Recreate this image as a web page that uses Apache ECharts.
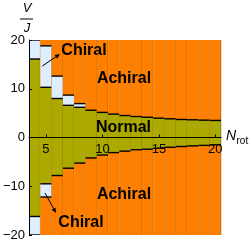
<!DOCTYPE html>
<html><head><meta charset="utf-8">
<script src="https://cdn.jsdelivr.net/npm/echarts@6/dist/echarts.min.js"></script>
<style>html,body{margin:0;padding:0;background:#fff}#c{width:249px;height:244px}</style>
</head><body><div id="c"></div>
<script>
// ---- data ----
const nRot        = [4, 5, 6, 7, 8, 9, 10, 11, 12, 13, 14, 15, 16, 17, 18, 19, 20];
const normalUpper = [16.1, 10.3, 8.0, 6.6, 6.2, 5.6, 5.15, 4.8, 4.5, 4.3, 4.15, 3.97, 3.83, 3.7, 3.63, 3.56, 3.5];
const chiralUpper = [20, 18.8, 12.6, 8.7, 6.95, null, null, null, null, null, null, null, null, null, null, null, null];
const normalLower = [-16.2, -9.5, -7.8, -6.3, -5.25, -4.2, -3.6, -3.1, -2.8, -2.5, -2.4, -2.2, -2.0, -1.85, -1.72, -1.62, -1.5];
const chiralLower = [-20, -12.2, null, null, null, null, null, null, null, null, null, null, null, null, null, null, null];
const xTicks = [5, 10, 15, 20];
const yMin = -20, yMax = 20, yStep = 10;

const ORANGE = '#FF8000', OLIVE = '#AAAA00', BLUE = '#DDEEFF';
const FONT = '"Liberation Sans", Arial, sans-serif';
const GRID_TOP = 40, GRID_H = 195;

const chart = echarts.init(document.getElementById('c'), null, {renderer: 'canvas'});

function renderItem(params, api) {
  const i = params.dataIndex;
  const n = api.value(0);
  const nu = normalUpper[i], nl = normalLower[i];
  const cu = chiralUpper[i], cl = chiralLower[i];
  const xl = api.coord([n - 0.5, 0])[0], xr = api.coord([n + 0.5, 0])[0];
  const w = xr - xl;
  const Y = v => api.coord([n, v])[1];
  const top = Y(yMax), bot = Y(yMin);
  const ch = [];
  ch.push({type: 'rect', shape: {x: xl, y: top, width: w, height: bot - top}, style: {fill: ORANGE}});
  ch.push({type: 'rect', shape: {x: xl, y: Y(nu), width: w, height: Y(nl) - Y(nu)}, style: {fill: OLIVE}});
  if (cu != null) ch.push({type: 'rect', shape: {x: xl, y: Y(cu), width: w, height: Y(nu) - Y(cu)}, style: {fill: BLUE}});
  if (cl != null) ch.push({type: 'rect', shape: {x: xl, y: Y(nl), width: w, height: Y(cl) - Y(nl)}, style: {fill: BLUE}});
  ch.push({type: 'line', shape: {x1: xr, y1: top, x2: xr, y2: bot}, style: {stroke: 'rgba(0,0,0,0.25)', lineWidth: 1}});
  const hl = v => ch.push({type: 'line', shape: {x1: xl, y1: Y(v), x2: xr, y2: Y(v)}, style: {stroke: '#000', lineWidth: 1.4}});
  hl(nu); hl(nl);
  if (cu != null) hl(cu);
  if (cl != null) hl(cl);
  return {type: 'group', children: ch};
}

function arrow(x1, y1, x2, y2) {
  const a = Math.atan2(y2 - y1, x2 - x1), L = 5, W = 2.2;
  const bx = x2 - L * Math.cos(a), by = y2 - L * Math.sin(a);
  const px = -Math.sin(a) * W, py = Math.cos(a) * W;
  return [
    {type: 'line', shape: {x1: x1, y1: y1, x2: bx, y2: by}, style: {stroke: '#000', lineWidth: 1}, z: 20},
    {type: 'polygon', shape: {points: [[x2, y2], [bx + px, by + py], [bx - px, by - py]]}, style: {fill: '#000'}, z: 20}
  ];
}

const lbl = (x, y, t) => ({type: 'text', x: x, y: y, z: 20,
  style: {text: t, fontFamily: FONT, fontSize: 16, fontWeight: 'bold', fill: '#000', align: 'center', verticalAlign: 'middle'}});

const graphics = [
  // y axis title V/J
  {type: 'text', x: 27, y: 8, style: {text: 'V', fontFamily: FONT, fontSize: 13, fontStyle: 'italic', fill: '#000', align: 'center', verticalAlign: 'middle'}},
  {type: 'line', shape: {x1: 20, y1: 19, x2: 33, y2: 19}, style: {stroke: '#000', lineWidth: 1}},
  {type: 'text', x: 27, y: 28, style: {text: 'J', fontFamily: FONT, fontSize: 13, fontStyle: 'italic', fill: '#000', align: 'center', verticalAlign: 'middle'}},
  // x axis name N_rot
  {type: 'text', x: 226, y: 136, style: {text: 'N', fontFamily: FONT, fontSize: 14, fontStyle: 'italic', fill: '#000', align: 'left', verticalAlign: 'middle'}},
  {type: 'text', x: 236.5, y: 141, style: {text: 'rot', fontFamily: FONT, fontSize: 10, fill: '#000', align: 'left', verticalAlign: 'middle'}},
  lbl(84, 51, 'Chiral'),
  lbl(124, 79, 'Achiral'),
  lbl(123.5, 127.5, 'Normal'),
  lbl(124, 195, 'Achiral'),
  lbl(81, 223, 'Chiral')
].concat(arrow(42.3, 66, 60, 54)).concat(arrow(45, 193, 56, 213));

chart.setOption({
  animation: false,
  backgroundColor: '#fff',
  grid: {left: 26, right: 28, top: GRID_TOP, height: GRID_H, containLabel: false},
  xAxis: {
    type: 'value', min: 3.5, max: 20.5, z: 10,
    position: 'bottom', offset: -GRID_H / 2,
    axisLine: {show: true, onZero: false, lineStyle: {color: '#000', width: 1}},
    axisTick: {show: true, inside: true, length: 3, customValues: xTicks, lineStyle: {color: '#000'}},
    axisLabel: {customValues: xTicks, margin: 5, fontSize: 13, color: '#000', fontFamily: FONT},
    splitLine: {show: false}
  },
  yAxis: {
    type: 'value', min: yMin, max: yMax, interval: yStep, z: 10,
    axisLine: {show: true, lineStyle: {color: '#000', width: 1}},
    axisTick: {show: true, inside: true, length: 3, lineStyle: {color: '#000'}},
    axisLabel: {margin: 4, fontSize: 13, color: '#000', fontFamily: FONT,
      formatter: v => String(v).replace('-', '\u2212')},
    splitLine: {show: false}
  },
  graphic: graphics,
  series: [{
    type: 'custom', renderItem: renderItem, clip: true,
    encode: {x: 0, y: 1},
    data: nRot.map((n, i) => [n, normalUpper[i]])
  }]
});
</script></body></html>
